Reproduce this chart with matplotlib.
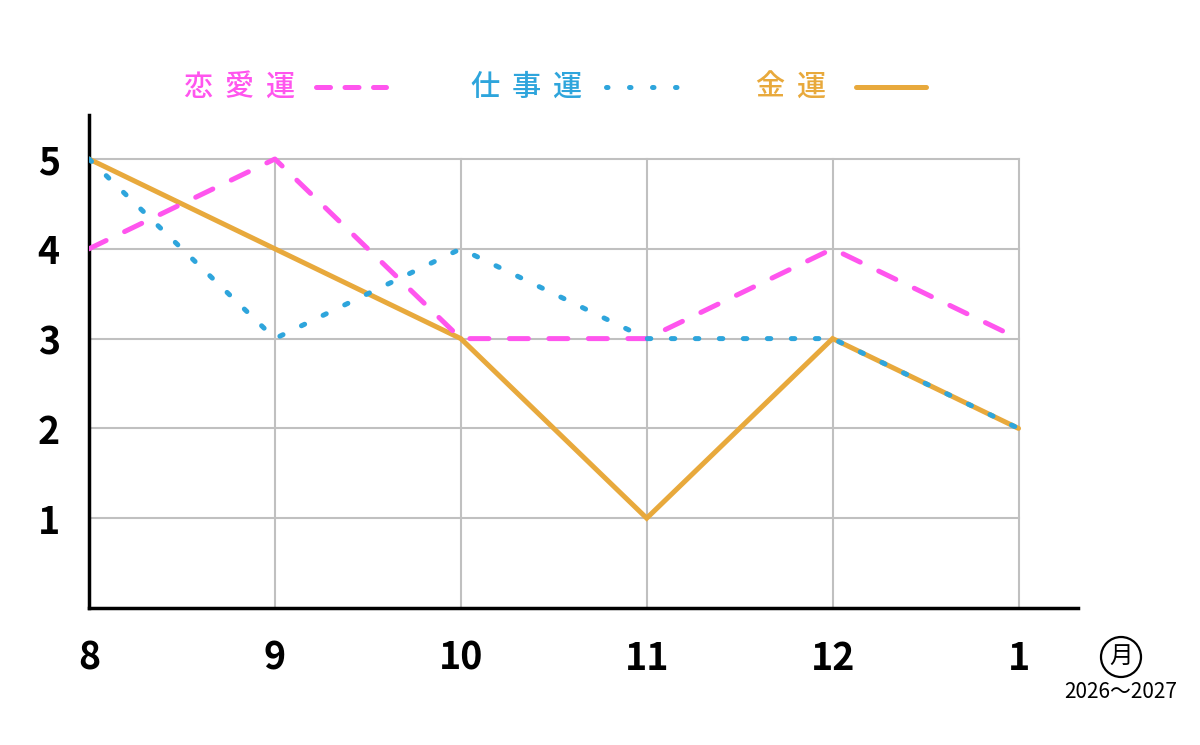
import matplotlib
matplotlib.use("Agg")
import matplotlib.pyplot as plt
from matplotlib.lines import Line2D
from matplotlib.patches import Ellipse

plt.rcParams['font.family'] = ['Noto Sans CJK JP', 'DejaVu Sans']

months = ["8", "9", "10", "11", "12", "1"]
love = [4, 5, 3, 3, 4, 3]
work = [5, 3, 4, 3, 3, 2]
money = [5, 4, 3, 1, 3, 2]
y_ticks = [1, 2, 3, 4, 5]
series_names = ["恋愛運", "仕事運", "金運"]
colors = ["#FF55EE", "#2EA5DC", "#E8A93C"]

fig = plt.figure(figsize=(12, 7.45), dpi=100)
ax = fig.add_axes([89/1200, 1-608/745, (1078-89)/1200, (608-115)/745])
x = list(range(len(months)))

ax.set_xlim(0, 5.32)
ax.set_ylim(0, 5.49)

# grid only within the data region
for xi in x:
    ax.plot([xi, xi], [0, 5], color="#c0c0c0", lw=1.5, zorder=1)
for yi in y_ticks:
    ax.plot([0, 5], [yi, yi], color="#c0c0c0", lw=1.5, zorder=1)

lw = 3.6
love_style = (0, (3.8, 4.1))
work_style = (0, (0.7, 4.1))
ax.plot(x, money, color=colors[2], lw=lw, solid_capstyle='round', solid_joinstyle='miter', zorder=3)
ax.plot(x, love, color=colors[0], lw=lw, linestyle=love_style, dash_capstyle='round', zorder=4)
ax.plot(x, work, color=colors[1], lw=lw, linestyle=work_style, dash_capstyle='round', zorder=5)

for s in ["top", "right"]:
    ax.spines[s].set_visible(False)
ax.spines["left"].set_linewidth(2.5)
ax.spines["bottom"].set_linewidth(2.5)
ax.set_xticks(x)
ax.set_xticklabels(months)
ax.set_yticks(y_ticks)
ax.set_yticklabels([str(v) for v in y_ticks])
ax.tick_params(length=0, labelsize=27, pad=22)
ax.tick_params(axis='y', pad=29)
for lab in ax.get_xticklabels() + ax.get_yticklabels():
    lab.set_fontweight('bold')
for lab in ax.get_yticklabels():
    lab.set_horizontalalignment('center')

# legend drawn manually at top
def fx(px):
    return px / 1200
def fy(py):
    return 1 - py / 745

legend_y = 87
text_x = [198, 485, 770]
pitch = 41
line_x = [(316, 386), (606, 683), (856, 926)]
styles = [(0, (2.8, 2.9)), (0, (0.3, 4.3)), '-']
for name, c, tx, (l0, l1), st in zip(series_names, colors, text_x, line_x, styles):
    for i, ch in enumerate(name):
        fig.text(fx(tx + i * pitch), fy(legend_y), ch, color=c, fontsize=21, fontweight='medium',
                 ha='center', va='center')
    kw = dict(dash_capstyle='round') if st != '-' else dict(solid_capstyle='round')
    fig.add_artist(Line2D([fx(l0), fx(l1)], [fy(legend_y), fy(legend_y)], color=c, lw=lw,
                          linestyle=st, transform=fig.transFigure, **kw))

# month unit
circ = Ellipse((fx(1121), fy(657)), 40/1200, 40/745, transform=fig.transFigure, fill=False,
               edgecolor='black', lw=1.6)
fig.add_artist(circ)
fig.text(fx(1121), fy(656), "月", fontsize=17, ha='center', va='center', color='black')
fig.text(fx(1121), fy(692), "2026～2027", fontsize=15, ha='center', va='center', color='black')

fig.savefig("out.png", dpi=100, facecolor='white')
